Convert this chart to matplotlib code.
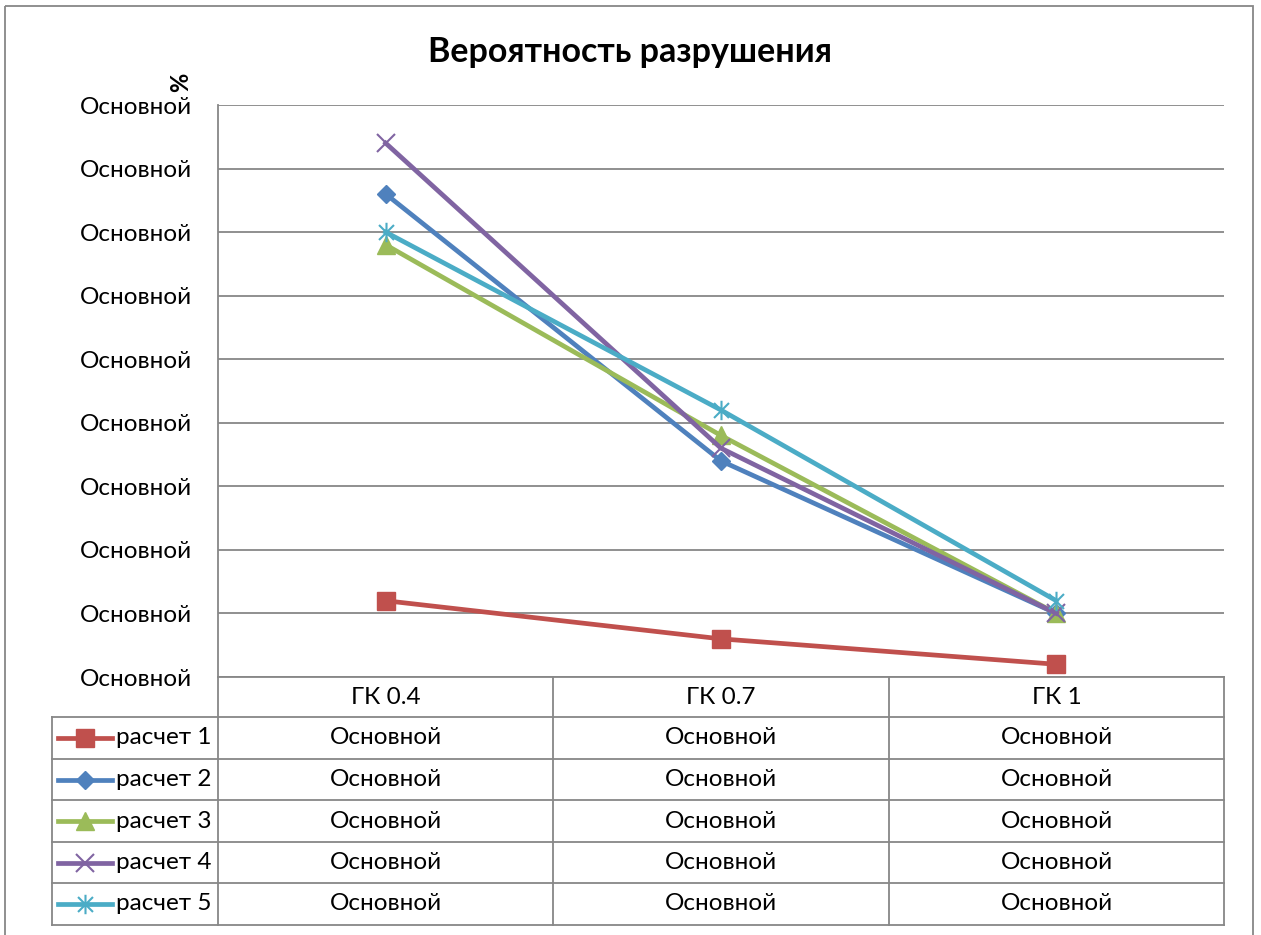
import matplotlib.pyplot as plt
from matplotlib.path import Path

plt.rcParams['font.family'] = ['Lato', 'DejaVu Sans']

# data
categories = ['ГК 0.4', 'ГК 0.7', 'ГК 1']
series_names = ['расчет 1', 'расчет 2', 'расчет 3', 'расчет 4', 'расчет 5']
calc1 = [1.2, 0.6, 0.2]
calc2 = [7.6, 3.4, 1.0]
calc3 = [6.8, 3.8, 1.0]
calc4 = [8.4, 3.6, 1.0]
calc5 = [7.0, 4.2, 1.2]
y_ticks = list(range(10))
y_tick_label = 'Основной'
cell_label = 'Основной'

values = [calc1, calc2, calc3, calc4, calc5]
colors = ['#C0504D', '#4F81BD', '#9BBB59', '#8064A2', '#4BACC6']

star = Path([(-1, -1), (1, 1), (-1, 1), (1, -1), (0, -1.3), (0, 1.3)],
            [Path.MOVETO, Path.LINETO, Path.MOVETO, Path.LINETO, Path.MOVETO, Path.LINETO])
markers = [dict(marker='s', ms=13),
           dict(marker='D', ms=9),
           dict(marker='^', ms=13),
           dict(marker='x', ms=13, mew=1.5),
           dict(marker=star, ms=14, mew=1.5, fillstyle='none')]

W, H = 1261, 935
grid_c = '#878787'
fs = 17.5
fig = plt.figure(figsize=(W / 100, H / 100), dpi=100)

# plot area in pixels
L, R, T, B = 218, 1224, 105, 677
ax = fig.add_axes([L / W, 1 - B / H, (R - L) / W, (B - T) / H])
x = list(range(len(categories)))
for vals, c, m in zip(values, colors, markers):
    ax.plot(x, vals, color=c, lw=3.4, mec=c, mfc=c, clip_on=False, zorder=3, **m)

ax.set_xlim(-0.5, len(categories) - 0.5)
ax.set_ylim(0, 9)
ax.set_yticks(y_ticks)
ax.set_yticklabels([y_tick_label] * len(y_ticks), fontsize=fs)
ax.tick_params(axis='y', length=0, pad=19)
ax.set_xticks([])
ax.grid(axis='y', color=grid_c, lw=1.3)
for s in ['top', 'right', 'bottom']:
    ax.spines[s].set_visible(False)
ax.spines['left'].set_color(grid_c)
ax.spines['left'].set_linewidth(1.3)

# overlay in pixel coords for title, table and frame
ov = fig.add_axes([0, 0, 1, 1], zorder=-1)
ov.set_xlim(0, W)
ov.set_ylim(H, 0)
ov.axis('off')
ov.add_patch(plt.Rectangle((5, 6), 1248, 940, fill=False, ec=grid_c, lw=1.3))

fig.text(630 / W, 1 - 52 / H, 'Вероятность разрушения', ha='center', va='center',
         fontsize=24.5, fontweight='bold')
fig.text(181 / W, 1 - 82 / H, '%', ha='center', va='center', rotation=90,
         fontsize=17, fontweight='bold')

ov2 = fig.add_axes([0, 0, 1, 1], zorder=5)
ov2.set_xlim(0, W)
ov2.set_ylim(H, 0)
ov2.axis('off')
ov2.patch.set_alpha(0)

col_edges = [L, 553, 889, R]
row_edges = [677, 717, 759, 800, 842, 883, 925]
leg_left = 52
kw = dict(color=grid_c, lw=1.3)
ov2.plot([L, R], [row_edges[0], row_edges[0]], **kw)
for y in row_edges[1:]:
    ov2.plot([leg_left, R], [y, y], **kw)
for xe in col_edges:
    ov2.plot([xe, xe], [row_edges[0], row_edges[-1]], **kw)
ov2.plot([leg_left, leg_left], [row_edges[1], row_edges[-1]], **kw)

centers = [(col_edges[i] + col_edges[i + 1]) / 2 for i in range(len(categories))]
for cx, cat in zip(centers, categories):
    ov2.text(cx, (row_edges[0] + row_edges[1]) / 2, cat, ha='center', va='center', fontsize=fs)

for i, (name, c, m) in enumerate(zip(series_names, colors, markers)):
    cy = (row_edges[i + 1] + row_edges[i + 2]) / 2
    ov2.plot([58, 112], [cy, cy], color=c, lw=3.4)
    ov2.plot([85], [cy], color=c, mec=c, mfc=c, **m)
    ov2.text(116, cy, name, ha='left', va='center', fontsize=fs)
    for cx in centers:
        ov2.text(cx, cy, cell_label, ha='center', va='center', fontsize=fs)

fig.savefig('out.png', dpi=100)
